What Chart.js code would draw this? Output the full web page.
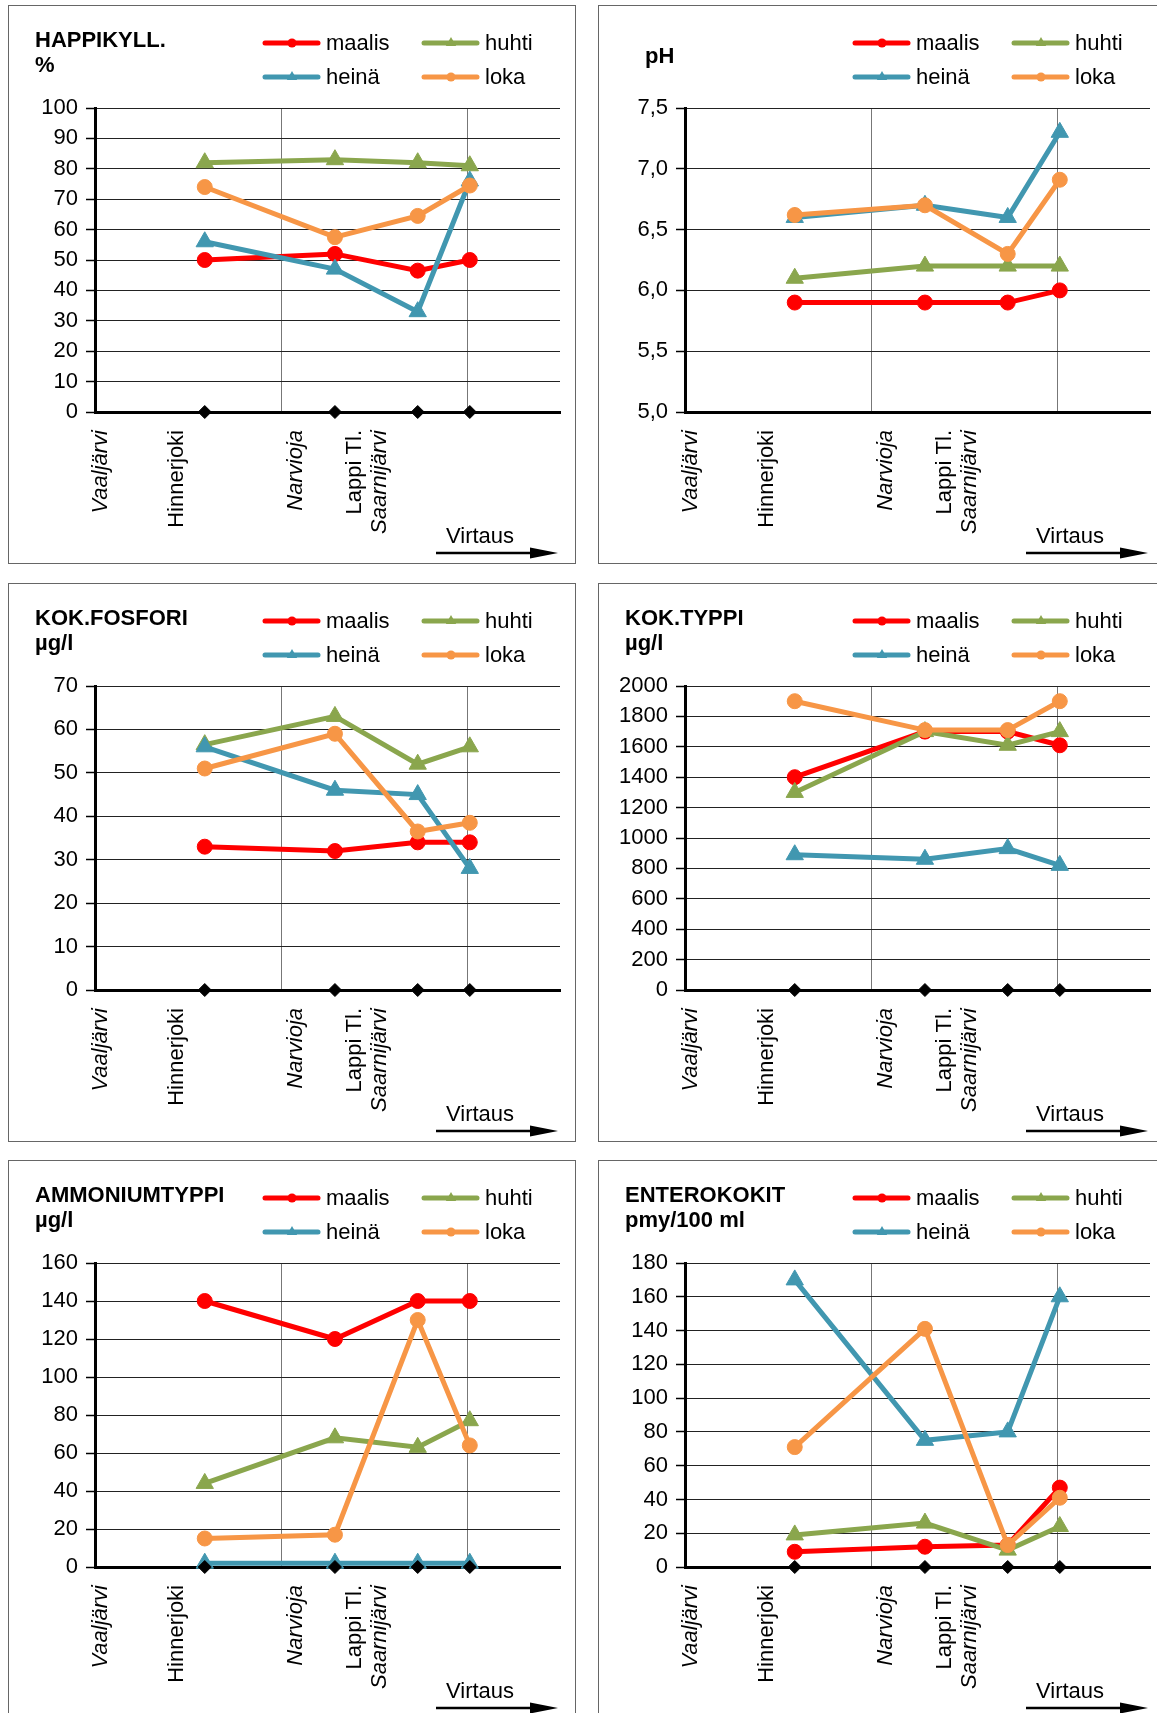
<!DOCTYPE html>
<html>
<head>
<meta charset="utf-8">
<script src="https://cdn.jsdelivr.net/npm/chart.js@4.4.0/dist/chart.umd.min.js"></script>
<style>
  body { margin: 0; background: #fff; width: 1157px; height: 1713px; overflow: hidden; position: relative; }
  .panel { position: absolute; width: 566px; height: 557px; border: 1px solid #666; background: #fff; }
  .panel canvas { position: absolute; left: 0; top: 0; }
</style>
</head>
<body>
<script>
// sampling points along the stream (x positions on a 0..2.5 axis) and the month series
const months = ['maalis', 'huhti', 'heinä', 'loka'];
const monthColors = ['#FF0000', '#8AA64D', '#4197B0', '#F79646'];
const monthMarkers = ['circle', 'triangle', 'triangle', 'circle'];
const stationX = [0.59, 1.29, 1.735, 2.015];
const stationNames = ['Vaaljärvi', 'Hinnerjoki', 'Narvioja', 'Lappi Tl.', 'Saarnijärvi'];
const stationLabelX = [0.03, 0.44, 1.08, 1.40, 1.53];
const stationItalic = [true, false, true, false, true];

// HAPPIKYLL. %
const happiMaalis = [50, 52, 46.5, 50];
const happiHuhti = [82, 83, 82, 81];
const happiHeina = [56, 47, 33, 76];
const happiLoka = [74, 57.5, 64.5, 74.5];

// pH
const phMaalis = [5.9, 5.9, 5.9, 6.0];
const phHuhti = [6.1, 6.2, 6.2, 6.2];
const phHeina = [6.6, 6.7, 6.6, 7.3];
const phLoka = [6.62, 6.7, 6.3, 6.91];

// KOK.FOSFORI µg/l
const fosforiMaalis = [33, 32, 34, 34];
const fosforiHuhti = [56.5, 63, 52, 56];
const fosforiHeina = [56, 46, 45, 28];
const fosforiLoka = [51, 59, 36.5, 38.5];

// KOK.TYPPI µg/l
const typpiMaalis = [1400, 1700, 1700, 1610];
const typpiHuhti = [1300, 1700, 1610, 1700];
const typpiHeina = [890, 860, 930, 820];
const typpiLoka = [1900, 1710, 1710, 1900];

// AMMONIUMTYPPI µg/l
const ammoMaalis = [140, 120, 140, 140];
const ammoHuhti = [44, 68, 63, 77];
const ammoHeina = [2, 2, 2, 2];
const ammoLoka = [15, 17, 130, 64];

// ENTEROKOKIT pmy/100 ml
const enteroMaalis = [9, 12, 13, 47];
const enteroHuhti = [19, 26, 10, 24];
const enteroHeina = [170, 75, 80, 160];
const enteroLoka = [71, 141, 13, 41];

const FONT = '"Liberation Sans", Arial, sans-serif';
Chart.defaults.font.family = FONT;
Chart.defaults.color = '#000';

const panels = [
  { left: 8, top: 5, title: ['HAPPIKYLL.', '%'], min: 0, max: 100, step: 10, series: [happiMaalis, happiHuhti, happiHeina, happiLoka], diamonds: true },
  { left: 598, top: 5, title: ['pH'], titleX: 46, titleY: 57, min: 5, max: 7.5, step: 0.5, comma: true, series: [phMaalis, phHuhti, phHeina, phLoka], diamonds: false },
  { left: 8, top: 583, title: ['KOK.FOSFORI', 'µg/l'], min: 0, max: 70, step: 10, series: [fosforiMaalis, fosforiHuhti, fosforiHeina, fosforiLoka], diamonds: true },
  { left: 598, top: 583, title: ['KOK.TYPPI', 'µg/l'], min: 0, max: 2000, step: 200, series: [typpiMaalis, typpiHuhti, typpiHeina, typpiLoka], diamonds: true },
  { left: 8, top: 1160, title: ['AMMONIUMTYPPI', 'µg/l'], min: 0, max: 160, step: 20, series: [ammoMaalis, ammoHuhti, ammoHeina, ammoLoka], diamonds: true },
  { left: 598, top: 1160, title: ['ENTEROKOKIT', 'pmy/100 ml'], min: 0, max: 180, step: 20, series: [enteroMaalis, enteroHuhti, enteroHeina, enteroLoka], diamonds: true }
];

function drawMarker(ctx, style, x, y, r) {
  ctx.beginPath();
  if (style === 'circle') {
    ctx.arc(x, y, r, 0, Math.PI * 2);
  } else {
    ctx.moveTo(x, y - r);
    ctx.lineTo(x + r * 0.866, y + r * 0.5);
    ctx.lineTo(x - r * 0.866, y + r * 0.5);
    ctx.closePath();
  }
  ctx.fill();
}

// titles, 2x2 legend, station names under the axis and the "Virtaus" arrow
const decorations = {
  id: 'decorations',
  afterDraw(chart, args, opts) {
    const ctx = chart.ctx;
    const area = chart.chartArea;
    const xs = chart.scales.x;
    ctx.save();

    // title
    ctx.fillStyle = '#000';
    ctx.font = 'bold 22px ' + FONT;
    ctx.textAlign = 'left';
    ctx.textBaseline = 'alphabetic';
    if (opts.title.length === 1) {
      ctx.fillText(opts.title[0], opts.titleX, opts.titleY);
    } else {
      ctx.fillText(opts.title[0], 26, 41);
      ctx.fillText(opts.title[1], 26, 66);
    }

    // legend
    const cols = [254, 413];
    const rows = [37, 71];
    chart.data.datasets.forEach((ds, i) => {
      if (ds.legendSkip) return;
      const x0 = cols[i % 2];
      const y0 = rows[Math.floor(i / 2)];
      ctx.strokeStyle = ds.borderColor;
      ctx.fillStyle = ds.borderColor;
      ctx.lineWidth = 5;
      ctx.lineCap = 'round';
      ctx.beginPath();
      ctx.moveTo(x0 + 2, y0);
      ctx.lineTo(x0 + 55, y0);
      ctx.stroke();
      drawMarker(ctx, ds.pointStyle, x0 + 29, y0, ds.pointStyle === 'circle' ? 4.5 : 6);
      ctx.fillStyle = '#000';
      ctx.font = '22px ' + FONT;
      ctx.textBaseline = 'middle';
      ctx.fillText(ds.label, x0 + 63, y0 + 1);
    });

    // station names, rotated
    stationNames.forEach((name, i) => {
      const px = xs.getPixelForValue(stationLabelX[i]);
      ctx.save();
      ctx.translate(px, area.bottom + 18);
      ctx.rotate(-Math.PI / 2);
      ctx.font = (stationItalic[i] ? 'italic ' : '') + '22px ' + FONT;
      ctx.textAlign = 'right';
      ctx.textBaseline = 'middle';
      ctx.fillStyle = '#000';
      ctx.fillText(name, 0, 0);
      ctx.restore();
    });

    // flow direction
    ctx.font = '22px ' + FONT;
    ctx.textAlign = 'left';
    ctx.textBaseline = 'alphabetic';
    ctx.fillStyle = '#000';
    ctx.fillText('Virtaus', 437, 537);
    ctx.strokeStyle = '#000';
    ctx.lineWidth = 2.5;
    ctx.lineCap = 'butt';
    ctx.beginPath();
    ctx.moveTo(427, 547);
    ctx.lineTo(524, 547);
    ctx.stroke();
    ctx.beginPath();
    ctx.moveTo(521, 541.5);
    ctx.lineTo(549, 547);
    ctx.lineTo(521, 552.5);
    ctx.closePath();
    ctx.fill();

    ctx.restore();
  }
};

panels.forEach((p) => {
  const div = document.createElement('div');
  div.className = 'panel';
  div.style.left = p.left + 'px';
  div.style.top = p.top + 'px';
  const canvas = document.createElement('canvas');
  canvas.width = 566;
  canvas.height = 557;
  div.appendChild(canvas);
  document.body.appendChild(div);

  const datasets = p.series.map((vals, i) => ({
    label: months[i],
    data: vals.map((v, j) => ({ x: stationX[j], y: v })),
    borderColor: monthColors[i],
    backgroundColor: monthColors[i],
    pointBackgroundColor: monthColors[i],
    pointBorderColor: monthColors[i],
    pointStyle: monthMarkers[i],
    pointRadius: monthMarkers[i] === 'circle' ? 7.5 : 10,
    pointBorderWidth: 1,
    borderWidth: 5,
    tension: 0,
    clip: false,
    order: 4 - i
  }));
  if (p.diamonds) {
    datasets.push({
      label: '',
      legendSkip: true,
      data: stationX.map(x => ({ x: x, y: p.min })),
      showLine: false,
      pointStyle: 'rectRot',
      pointRadius: 6.5,
      pointBackgroundColor: '#000',
      pointBorderColor: '#000',
      pointBorderWidth: 1,
      clip: false,
      order: 0
    });
  }

  new Chart(canvas, {
    type: 'line',
    data: { datasets: datasets },
    options: {
      responsive: false,
      animation: false,
      devicePixelRatio: 1,
      events: [],
      layout: { padding: { left: 0, top: 102, right: 15, bottom: 151 } },
      scales: {
        x: {
          type: 'linear',
          min: 0,
          max: 2.5,
          afterFit: s => { s.height = 0; },
          ticks: { display: false, stepSize: 1, includeBounds: false },
          grid: { color: '#777', lineWidth: 1, drawTicks: false },
          border: { display: true, color: '#000', width: 3 }
        },
        y: {
          min: p.min,
          max: p.max,
          afterFit: s => { s.width = 86; },
          ticks: {
            stepSize: p.step,
            padding: 8,
            font: { size: 22 },
            color: '#000',
            callback: v => p.comma ? v.toFixed(1).replace('.', ',') : String(v)
          },
          grid: { color: '#222', lineWidth: 1, tickLength: 9, tickColor: '#000', tickWidth: 1.5 },
          border: { display: true, color: '#000', width: 3 }
        }
      },
      plugins: {
        legend: { display: false },
        tooltip: { enabled: false },
        decorations: { title: p.title, titleX: p.titleX, titleY: p.titleY }
      }
    },
    plugins: [decorations]
  });
});
</script>
</body>
</html>
